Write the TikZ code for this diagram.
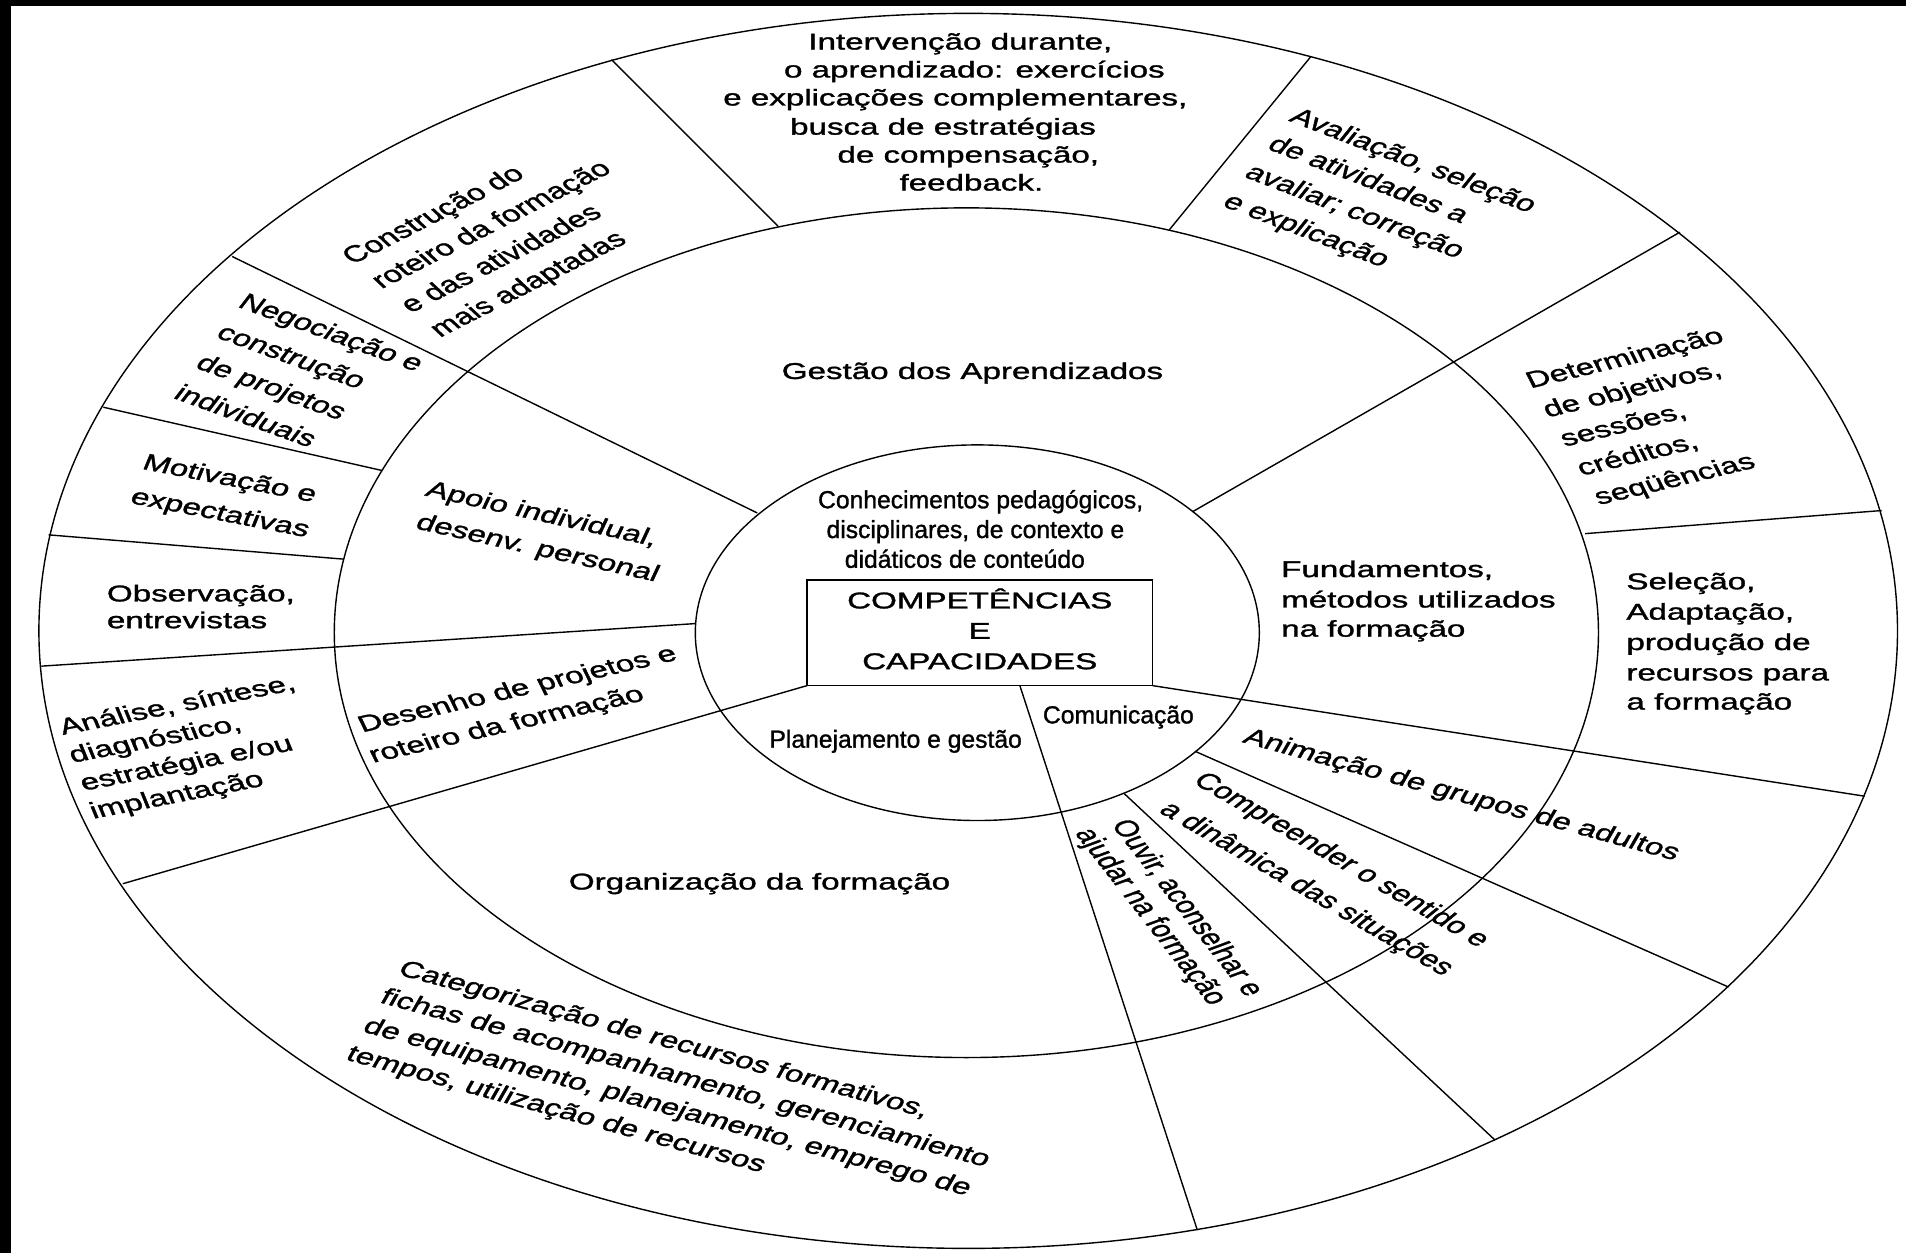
\documentclass[tikz,border=0pt]{standalone}
\usepackage{fontspec}
\newfontfamily\arialf[FakeBold=1.2]{Liberation Sans}
\newcommand\strx{1.45}
\tikzset{
  ln/.style={line width=1.15pt},
  mt/.style={font=\arialf\fontsize{18.8}{24.5}\selectfont, inner sep=0pt, outer sep=0pt, text height=13.5pt, text depth=4pt},
  nt/.style={font=\arialf\fontsize{20.3}{24.5}\selectfont, inner sep=0pt, outer sep=0pt, text height=14.5pt, text depth=4.3pt},
}
\newcommand\tline[6][west]{%
  \pgfmathsetmacro\phang{atan(\strx*tan(#5))}%
  \begin{scope}[shift={(#3,#4)},xscale=\strx]
    \node[mt,rotate=\phang,transform shape,anchor=#1] (#2) at (0,0) {#6};
  \end{scope}}
\begin{document}
\begin{tikzpicture}[x=1pt,y=-1pt]
\fill[white] (0,0) rectangle (1568,1031);
\useasboundingbox (0,0) rectangle (1568,1031);
\fill[black] (0,0) rectangle (1568,5);
\fill[black] (0,0) rectangle (9,1031);

% rings
\draw[ln] (796.5,519) ellipse [x radius=764.5, y radius=508];
\draw[ln] (795,520.5) ellipse [x radius=520, y radius=349.5];
\draw[ln] (804,520.5) ellipse [x radius=232, y radius=154.5];

% central box
\node[draw, ln, minimum width=284pt, minimum height=87pt, inner sep=0pt, outer sep=0pt,
      font=\arialf\fontsize{18.8}{25}\selectfont] (core) at (806,520.5)
  {\scalebox{1.45}[1]{\begin{tabular}{@{}c@{}}COMPETÊNCIAS\\E\\CAPACIDADES\end{tabular}}};

% divider end points
\coordinate (o1) at (503,49);   \coordinate (m1) at (640,186);
\coordinate (o2) at (1078,47);  \coordinate (m2) at (962,189);
\coordinate (o3) at (191,211);  \coordinate (i3) at (623,422);
\coordinate (o4) at (85,335);   \coordinate (m4) at (314,387);
\coordinate (o5) at (40,440);   \coordinate (m5) at (283,460);
\coordinate (o6) at (34,548);   \coordinate (i6) at (572,513);
\coordinate (o7) at (101,727);
\coordinate (b8) at (839,564);  \coordinate (o8) at (985,1012);
\coordinate (i9) at (925,653);  \coordinate (o9) at (1230,938);
\coordinate (i10) at (983,618); \coordinate (o10) at (1422,812);
\coordinate (o11) at (1534,655);
\coordinate (m12) at (1304,439); \coordinate (o12) at (1548,420);
\coordinate (i13) at (981,421); \coordinate (o13) at (1382,191);

\draw[ln] (o1) -- (m1);
\draw[ln] (o2) -- (m2);
\draw[ln] (o3) -- (i3);
\draw[ln] (o4) -- (m4);
\draw[ln] (o5) -- (m5);
\draw[ln] (o6) -- (i6);
\draw[ln] (o7) -- (core.south west);
\draw[ln] (b8) -- (o8);
\draw[ln] (i9) -- (o9);
\draw[ln] (i10) -- (o10);
\draw[ln] (core.south east) -- (o11);
\draw[ln] (m12) -- (o12);
\draw[ln] (i13) -- (o13);

% outer ring texts
\tline{iv1}{665}{36}{0}{Intervenção durante,}
\tline{iv2}{645}{59}{0}{o aprendizado: exercícios}
\tline{iv3}{595}{82}{0}{e explicações complementares,}
\tline{iv4}{650}{106}{0}{busca de estratégias}
\tline{iv5}{689}{129}{0}{de compensação,}
\tline{iv6}{740}{152}{0}{feedback.}

\tline{co1}{286}{214}{27}{Construção do}
\tline{co2}{310}{234}{27}{roteiro da formação}
\tline{co3}{334}{254}{27}{e das atividades}
\tline{co4}{358}{274}{27}{mais adaptadas}

\tline{av1}{1063}{95}{-21}{Avaliação, seleção}
\tline{av2}{1045}{118}{-21}{de atividades a}
\tline{av3}{1026}{141}{-21}{avaliar; correção}
\tline{av4}{1008}{165}{-21}{e explicação}

\tline{ne1}{198}{248}{-20}{Negociação e}
\tline{ne2}{180}{273}{-20}{construção}
\tline{ne3}{163}{298}{-20}{de projetos}
\tline{ne4}{145}{323}{-20}{individuais}

\tline{mo1}{118}{381}{-11}{Motivação e}
\tline{mo2}{108}{409}{-11}{expectativas}

\tline{ob1}{88}{490}{0}{Observação,}
\tline{ob2}{88}{512}{0}{entrevistas}

\tline{an1}{50}{600}{11}{Análise, síntese,}
\tline{an2}{58}{623}{11}{diagnóstico,}
\tline{an3}{67}{646}{11}{estratégia e/ou}
\tline{an4}{75}{669}{11}{implantação}

\tline{dt1}{1257}{315}{13.5}{Determinação}
\tline{dt2}{1271}{339}{13.5}{de objetivos,}
\tline{dt3}{1285}{363}{13.5}{sessões,}
\tline{dt4}{1299}{387}{13.5}{créditos,}
\tline{dt5}{1313}{411}{13.5}{seqüências}

\tline{se1}{1338}{480}{0}{Seleção,}
\tline{se2}{1338}{505}{0}{Adaptação,}
\tline{se3}{1338}{530}{0}{produção de}
\tline{se4}{1338}{555}{0}{recursos para}
\tline{se5}{1338}{579}{0}{a formação}

\tline{am}{1024}{606}{-15.3}{Animação de grupos de adultos}

\tline{cp1}{985}{640}{-30}{Compreender o sentido e}
\tline{cp2}{957}{664}{-30}{a dinâmica das situações}

\tline{ou1}{920}{676}{-52}{Ouvir, aconselhar e}
\tline{ou2}{890}{683}{-52}{ajudar na formação}

\tline{ca1}{329}{797}{-15.2}{Categorização de recursos formativos,}
\tline{ca2}{314}{820}{-15.2}{fichas de acompanhamento, gerenciamiento}
\tline{ca3}{300}{844}{-15.2}{de equipamento, planejamento, emprego de}
\tline{ca4}{286}{867}{-15.2}{tempos, utilização de recursos}

% middle ring texts
\tline[center]{ge}{800}{307}{0}{Gestão dos Aprendizados}
\tline{ap1}{351}{403}{-12.5}{Apoio individual,}
\tline{ap2}{343}{430}{-12.5}{desenv. personal}
\tline{de1}{296}{598}{13}{Desenho de projetos e}
\tline{de2}{305}{623}{13}{roteiro da formação}
\tline{or}{468}{727}{0}{Organização da formação}
\tline{fu1}{1054}{470}{0}{Fundamentos,}
\tline{fu2}{1054}{495}{0}{métodos utilizados}
\tline{fu3}{1054}{519}{0}{na formação}

% inner ring texts
\node[nt,anchor=west] (kn1) at (673,413) {Conhecimentos pedagógicos,};
\node[nt,anchor=west] (kn2) at (680,437.5) {disciplinares, de contexto e};
\node[nt,anchor=west] (kn3) at (695,462) {didáticos de conteúdo};
\node[nt,anchor=west] (pg) at (633,610) {Planejamento e gestão};
\node[nt,anchor=west] (cm) at (858,590) {Comunicação};
\end{tikzpicture}
\end{document}
